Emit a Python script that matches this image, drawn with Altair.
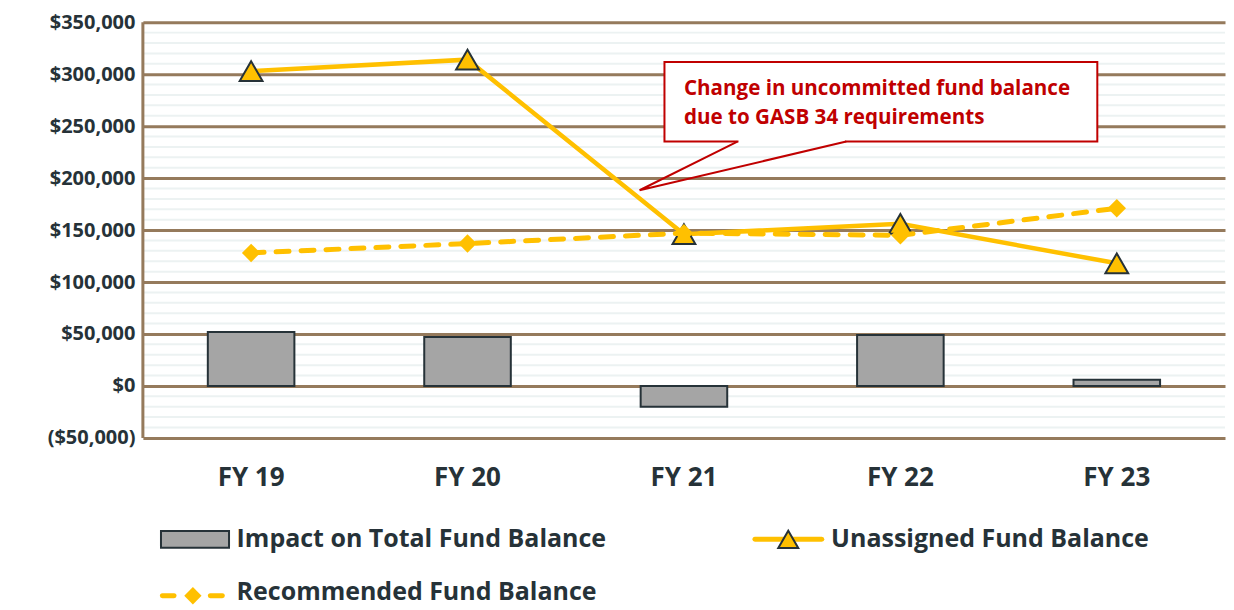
import altair as alt
import pandas as pd

# ---------------- data ----------------
years = ["FY 19", "FY 20", "FY 21", "FY 22", "FY 23"]
impact = [52000, 47000, -20000, 49000, 6000]
unassigned = [303000, 314000, 146000, 156000, 118000]
recommended = [128000, 137000, 147000, 145000, 171000]
major_ticks = [-50000, 0, 50000, 100000, 150000, 200000, 250000, 300000, 350000]
minor_ticks = [v for v in range(-50000, 350001, 10000) if v % 50000 != 0]

series_names = ["Impact on Total Fund Balance", "Unassigned Fund Balance", "Recommended Fund Balance"]
note_lines = ["Change in uncommitted fund balance", "due to GASB 34 requirements"]

# ---------------- style ----------------
W, H = 1083, 416
BROWN = "#957A5C"
MINOR = "#ECF2F2"
GOLD = "#FFC000"
GRAY = "#A5A5A5"
INK = "#263238"
RED = "#C00000"
FONT = "Open Sans"

df = pd.DataFrame({"year": years, "impact": impact,
                   "unassigned": unassigned, "recommended": recommended})
yscale = alt.Scale(domain=[-50000, 350000], nice=False, zero=False)
Y_AXIS = alt.Axis(values=major_ticks, title=None,
                  labelExpr="datum.value < 0 ? '($' + format(-datum.value, ',') + ')' : '$' + format(datum.value, ',')",
                  grid=True, gridColor=BROWN, gridWidth=3,
                  domain=False,
                  ticks=False, labelFontSize=20, labelFont=FONT,
                  labelFontWeight="bold", labelColor=INK,
                  labelPadding=8, labelFlush=False,
                  minExtent=135, maxExtent=135)

def Y(f):
    return alt.Y(f, type="quantitative", scale=yscale, axis=Y_AXIS)

xband = alt.X("year:N", sort=years,
              scale=alt.Scale(paddingInner=0.6, paddingOuter=0.3),
              axis=alt.Axis(title=None, labelFontSize=26, labelFont=FONT,
                            labelFontWeight="bold", labelColor=INK,
                            labelPadding=27, ticks=False, domain=False,
                            labelAngle=0, grid=False))

minor = alt.Chart(pd.DataFrame({"v": minor_ticks})).mark_rule(
    color=MINOR, strokeWidth=2).encode(y=Y("v"))

bars = alt.Chart(df).mark_bar(color=GRAY, stroke=INK, strokeWidth=2).encode(
    x=xband, y=Y("impact"))

un_line = alt.Chart(df).mark_line(color=GOLD, strokeWidth=4.5).encode(
    x=xband, y=Y("unassigned"))
un_pts = alt.Chart(df).mark_point(shape="triangle-up", filled=True, fill=GOLD,
                                  stroke=INK, strokeWidth=2, size=520, opacity=1).encode(
    x=xband, y=Y("unassigned"))
rec_line = alt.Chart(df).mark_line(color=GOLD, strokeWidth=5, strokeDash=[13, 12],
                                   strokeCap="round").encode(
    x=xband, y=Y("recommended"))
rec_pts = alt.Chart(df).mark_point(shape="diamond", filled=True, color=GOLD,
                                   size=340, opacity=1).encode(
    x=xband, y=Y("recommended"))

data_layer = alt.layer(minor, bars, un_line, un_pts, rec_line, rec_pts)

# ---------------- annotation + legend (x in band units 0..5) ----------------
xq = alt.Scale(domain=[0, 5], nice=False, zero=False)

def X(f):
    return alt.X(f, type="quantitative", scale=xq, axis=None)

left_border = alt.Chart(pd.DataFrame({"x": [0], "y": [-50000], "y2": [350000]})).mark_rule(
    color=BROWN, strokeWidth=3).encode(x=X("x"), y=Y("y"), y2="y2")

box = alt.Chart(pd.DataFrame({"x": [2.41], "x2": [4.41], "y": [311700], "y2": [235200]})).mark_rect(
    fill="white", stroke=RED, strokeWidth=2).encode(
    x=X("x"), x2="x2", y=Y("y"), y2="y2")
gap = alt.Chart(pd.DataFrame({"x": [2.752], "x2": [3.245], "y": [235200]})).mark_rule(
    color="white", strokeWidth=4).encode(x=X("x"), x2="x2", y=Y("y"))
pointer = alt.Chart(pd.DataFrame({
    "x": [2.747, 2.295, 3.25], "y": [235200, 188300, 235200], "o": [0, 1, 2]})).mark_line(
    color=RED, strokeWidth=2, strokeJoin="miter").encode(
    x=X("x"), y=Y("y"), order="o:Q")
note = alt.Chart(pd.DataFrame({"x": [2.50, 2.50], "y": [279900, 251700], "t": note_lines})).mark_text(
    align="left", baseline="alphabetic", font=FONT, fontWeight="bold",
    fontSize=20.6, color=RED).encode(x=X("x"), y=Y("y"), text="t:N")

leg_rect = alt.Chart(pd.DataFrame({"x": [0.0836], "x2": [0.398], "y": [-139700], "y2": [-155600]})).mark_rect(
    fill=GRAY, stroke=INK, strokeWidth=2).encode(x=X("x"), x2="x2", y=Y("y"), y2="y2")
leg_un_line = alt.Chart(pd.DataFrame({"x": [2.828], "x2": [3.137], "y": [-147600]})).mark_rule(
    color=GOLD, strokeWidth=5, strokeCap="round").encode(x=X("x"), x2="x2", y=Y("y"))
leg_un_pt = alt.Chart(pd.DataFrame({"x": [2.982], "y": [-147600]})).mark_point(
    shape="triangle-up", filled=True, fill=GOLD, stroke=INK, strokeWidth=2,
    size=400, opacity=1).encode(x=X("x"), y=Y("y"))
leg_rec_line = alt.Chart(pd.DataFrame({"x": [0.090, 0.3116], "x2": [0.144, 0.367],
                                       "y": [-201900, -201900]})).mark_rule(
    color=GOLD, strokeWidth=5, strokeCap="round").encode(x=X("x"), x2="x2", y=Y("y"))
leg_rec_pt = alt.Chart(pd.DataFrame({"x": [0.231], "y": [-201900]})).mark_point(
    shape="diamond", filled=True, color=GOLD, size=300, opacity=1).encode(x=X("x"), y=Y("y"))
leg_text = alt.Chart(pd.DataFrame({"x": [0.433, 3.18, 0.433],
                                   "y": [-154600, -154600, -205700],
                                   "t": series_names})).mark_text(
    align="left", baseline="alphabetic", font=FONT, fontWeight="bold",
    fontSize=25, color=INK).encode(x=X("x"), y=Y("y"), text="t:N")

annot_layer = alt.layer(left_border, box, gap, pointer, note, leg_rect, leg_un_line, leg_un_pt,
                        leg_rec_line, leg_rec_pt, leg_text)

chart = alt.layer(data_layer, annot_layer).resolve_scale(x="independent").properties(
    width=W, height=H,
    padding={"left": 0, "top": 4, "right": 0, "bottom": 0},
    background="white",
).configure_view(stroke=None)

chart.save("out.html", embed_options={"renderer": "svg", "actions": False})
